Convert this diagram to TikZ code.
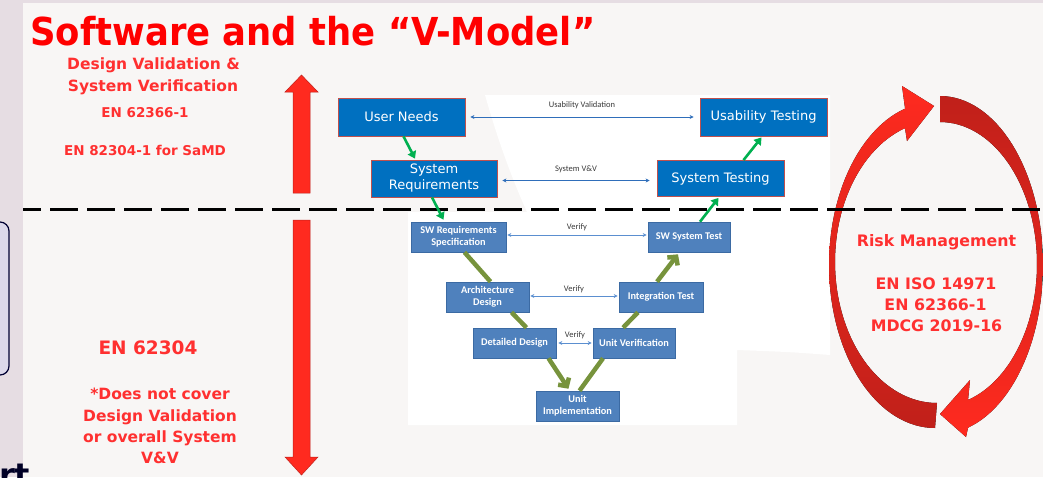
\documentclass[tikz,border=0pt]{standalone}
\usepackage{fontspec}
\newfontfamily\tah{DejaVu Sans}
\newfontfamily\tahT{DejaVu Sans}[FakeStretch=0.92]
\newfontfamily\carl{Carlito}
\usetikzlibrary{arrows.meta,calc}
\definecolor{slidebg}{HTML}{F8F6F5}
\definecolor{strip}{HTML}{E6DDE3}
\definecolor{lav}{HTML}{DCD8EA}
\definecolor{rtext}{HTML}{FF3030}
\definecolor{ttl}{HTML}{FF0000}
\definecolor{boxblue}{HTML}{0070C0}
\definecolor{boxedge}{HTML}{C0504D}
\definecolor{vblue}{HTML}{4F81BD}
\definecolor{vedge}{HTML}{3B6AA3}
\definecolor{grn}{HTML}{00B050}
\definecolor{olive}{HTML}{77933C}
\definecolor{arrred}{HTML}{FF2A1F}
\definecolor{darkred}{HTML}{C0201A}
\definecolor{linkblue}{HTML}{2F6EBA}
\definecolor{vlink}{HTML}{5B8FD0}
\definecolor{lblc}{HTML}{3A3A3A}
\begin{document}
\begin{tikzpicture}[x=1pt,y=-1pt,
  ubox/.style={draw=boxedge, line width=0.8pt, fill=boxblue, text=white,
    font=\tah\fontsize{13}{16}\selectfont, align=center, inner sep=0pt},
  vbox/.style={draw=vedge, line width=0.6pt, fill=vblue, text=white,
    font=\carl\bfseries\fontsize{10.3}{11.8}\selectfont, align=center, inner sep=0pt},
  redtxt/.style={text=rtext, font=\tah\bfseries\fontsize{15.5}{18}\selectfont, anchor=base, inner sep=0pt},
  grnarrow/.style={draw=grn, line width=2.6pt, -{Triangle[length=7pt,width=9pt]}},
  vline/.style={draw=olive, line width=4.5pt},
  varrow/.style={vline, -{Straight Barb[length=6pt,width=13pt]}},
  link/.style={draw=linkblue, line width=0.8pt, {Stealth[length=4pt,width=4pt]}-{Stealth[length=4pt,width=4pt]}},
  vlinkst/.style={draw=vlink, line width=0.7pt, {Stealth[length=4pt,width=4pt]}-{Stealth[length=4pt,width=4pt]}},
  lbl/.style={font=\carl\fontsize{8.5}{9}\selectfont, text=lblc, inner sep=0pt}
]
\useasboundingbox (0,0) rectangle (1043,477);
% backgrounds
\fill[strip] (0,0) rectangle (1043,477);
\fill[slidebg] (23,2.5) rectangle (1043,477);
\draw[draw=black!80!blue, line width=1.2pt, fill=lav, rounded corners=9pt] (-30,222) rectangle (9,375);
\node[anchor=base west, inner sep=0pt, font=\tah\bfseries\fontsize{32}{32}\selectfont, text=black!85!blue] (rt) at (-1,486) {rt};
% white image panel
\fill[white] (485,95) -- (830,95) -- (830,355) .. controls (790,352) .. (737,350) -- (737,425) -- (408,425) -- (408,212) -- (527,212) .. controls (508,170) and (495,130) .. (485,95) -- cycle;

% title
\node[anchor=base west, inner sep=0pt, text=ttl, font=\tahT\bfseries\fontsize{38.5}{40}\selectfont] (title) at (30,45) {Software and the “V-Model”};

% left texts
\node[redtxt] (t1) at (153.5,69) {Design Validation \&};
\node[redtxt] (t2) at (153,91) {System Verification};
\node[redtxt, font=\tah\bfseries\fontsize{13.5}{15}\selectfont] (t3) at (145,117) {EN 62366-1};
\node[redtxt, font=\tah\bfseries\fontsize{13.5}{15}\selectfont] (t4) at (145,155) {EN 82304-1 for SaMD};
\node[redtxt, font=\tah\bfseries\fontsize{18.5}{22}\selectfont] (t5) at (148,354) {EN 62304};
\node[redtxt] (t6) at (160,399) {*Does not cover};
\node[redtxt] (t7) at (160,421) {Design Validation};
\node[redtxt] (t8) at (160,442) {or overall System};
\node[redtxt] (t9) at (160,463) {V\&V};

% big red arrows
\filldraw[fill=arrred, draw=darkred, line width=0.5pt] (293,193) -- (293,92) -- (285,92) -- (301.5,75) -- (318,92) -- (310,92) -- (310,193) -- cycle;
\filldraw[fill=arrred, draw=darkred, line width=0.5pt] (293,220) -- (293,457) -- (285,457) -- (301.5,475) -- (318,457) -- (310,457) -- (310,220) -- cycle;

% risk arcs
\fill[top color=arrred, middle color=arrred, bottom color=darkred]
  plot[domain=270:106.4, samples=60] ({935+106*cos(\x)},{265-163*sin(\x)})
  -- (902,86) -- (934,106) -- (907,141)
  -- plot[domain=108.3:270, samples=60] ({937+102*cos(\x)},{262-141*sin(\x)}) -- cycle;
\fill[top color=darkred, middle color=darkred!60!arrred, bottom color=arrred]
  plot[domain=90:-74.2, samples=60] ({940+103*cos(\x)},{265-169*sin(\x)})
  -- (966,437) -- (940,414) -- (970,380)
  -- plot[domain=-73.2:90, samples=60] ({940+97*cos(\x)},{264-142*sin(\x)}) -- cycle;

\node[redtxt, font=\tah\bfseries\fontsize{15.8}{18}\selectfont] (rm) at (936.5,246) {Risk Management};
\node[redtxt, font=\tah\bfseries\fontsize{15.8}{18}\selectfont] (r1) at (936,289) {EN ISO 14971};
\node[redtxt, font=\tah\bfseries\fontsize{15.8}{18}\selectfont] (r2) at (935.5,310) {EN 62366-1};
\node[redtxt, font=\tah\bfseries\fontsize{15.8}{18}\selectfont] (r3) at (936.5,331) {MDCG 2019-16};

% dashed line
\coordinate (dl) at (23,209);
\coordinate (dr) at (1043,209);
\draw[line width=3pt, dash pattern=on 28pt off 9pt, dash phase=10pt] (dl) -- (dr);

% upper boxes
\node[ubox, minimum width=127pt, minimum height=38pt] (un) at (401.5,117) {User Needs};
\node[ubox, minimum width=126pt, minimum height=37pt] (sr) at (434,178.5) {System\\Requirements};
\node[ubox, minimum width=127pt, minimum height=38pt] (ut) at (763.5,117) {Usability Testing};
\node[ubox, minimum width=127pt, minimum height=36pt] (st) at (720.5,178.5) {System Testing};

% V boxes
\node[vbox, minimum width=95pt, minimum height=30pt] (swr) at (458.5,237) {SW Requirements\\Specification};
\node[vbox, minimum width=82pt, minimum height=30pt] (swt) at (689,237) {SW System Test};
\node[vbox, minimum width=83pt, minimum height=30pt] (ad) at (487.5,297) {Architecture\\Design};
\node[vbox, minimum width=84pt, minimum height=30pt] (it) at (661,297) {Integration Test};
\node[vbox, minimum width=83pt, minimum height=30pt] (dd) at (514.5,343) {Detailed Design};
\node[vbox, minimum width=82pt, minimum height=30pt] (uv) at (634,343) {Unit Verification};
\node[vbox, minimum width=83pt, minimum height=30pt] (ui) at (577.5,406) {Unit\\Implementation};

% green arrows
\draw[grnarrow] ([xshift=2pt]un.south) -- ([xshift=-19pt,yshift=1pt]sr.north);
\draw[grnarrow] ([xshift=-2pt]sr.south) -- ([xshift=-15pt,yshift=2pt]swr.north);
\draw[grnarrow] ([xshift=11pt]swt.north) -- ([xshift=-2pt,yshift=-1pt]st.south);
\draw[grnarrow] ([xshift=23pt]st.north) -- ([xshift=-2pt,yshift=-1pt]ut.south);

% olive V connectors
\draw[vline] ([xshift=6pt]swr.south) -- ([xshift=3pt]ad.north);
\draw[vline] ([xshift=24pt]ad.south) -- ([xshift=12pt]dd.north);
\draw[varrow] ([xshift=34pt]dd.south) -- ([xshift=-9pt,yshift=2pt]ui.north);
\draw[vline] ([xshift=2pt]ui.north) -- ([xshift=-31pt]uv.south);
\draw[vline] ([xshift=-11pt]uv.north) -- ([xshift=-23pt]it.south);
\draw[varrow] ([xshift=-4pt]it.north) -- ([xshift=-11pt,yshift=-2pt]swt.south);

% horizontal links
\draw[link] ([xshift=5pt]un.east) -- node[lbl, yshift=12pt] (l1) {Usability Validation} ([xshift=-6pt]ut.west);
\draw[link] ([xshift=5pt,yshift=-2pt]sr.east) -- node[lbl, yshift=11pt] (l2) {System V\&V} ([xshift=-7pt,yshift=-2pt]st.west);
\draw[vlinkst] ([xshift=1pt,yshift=2pt]swr.east) -- node[lbl, yshift=8pt] (l3) {Verify} ([xshift=-1pt,yshift=2pt]swt.west);
\draw[vlinkst] ([xshift=1pt,yshift=1pt]ad.east) -- node[lbl, yshift=7pt] (l4) {Verify} ([xshift=-1pt,yshift=1pt]it.west);
\draw[vlinkst] ([xshift=2pt]dd.east) -- node[lbl, yshift=8pt] (l5) {Verify} ([xshift=-1pt]uv.west);
\end{tikzpicture}
\end{document}
